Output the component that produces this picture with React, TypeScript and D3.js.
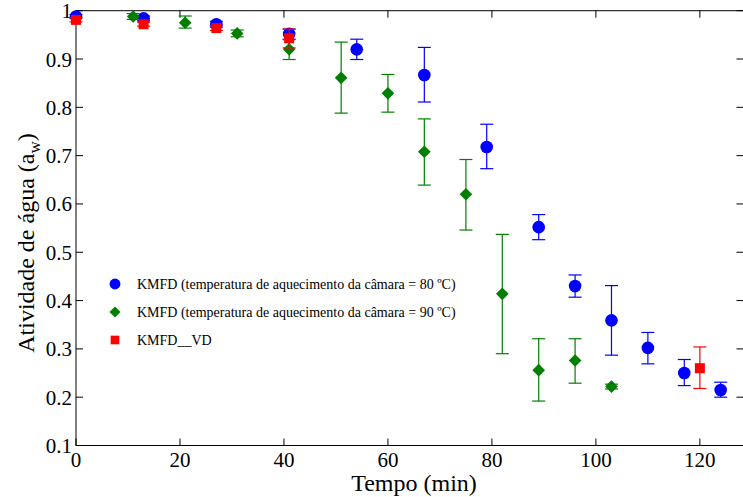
import React, { useEffect, useRef } from 'react';
import * as d3 from 'd3';

// KMFD, camara a 80 C
const t80 = [0, 13, 27, 41, 54, 67, 79, 89, 96, 103, 110, 117, 124];
const aw80 = [0.988, 0.984, 0.972, 0.952, 0.92, 0.867, 0.718, 0.552, 0.43, 0.359, 0.302, 0.25, 0.215];
const lo80 = [0.985, 0.979, 0.966, 0.941, 0.899, 0.811, 0.673, 0.526, 0.407, 0.287, 0.269, 0.224, 0.2];
const hi80 = [0.992, 0.989, 0.978, 0.962, 0.941, 0.924, 0.765, 0.578, 0.453, 0.431, 0.334, 0.278, 0.231];

// KMFD, camara a 90 C
const t90 = [11, 21, 31, 41, 51, 60, 67, 75, 82, 89, 96, 103];
const aw90 = [0.988, 0.975, 0.953, 0.92, 0.861, 0.829, 0.708, 0.62, 0.414, 0.256, 0.276, 0.222];
const lo90 = [0.982, 0.964, 0.946, 0.899, 0.788, 0.79, 0.639, 0.546, 0.29, 0.192, 0.229, 0.217];
const hi90 = [0.994, 0.989, 0.96, 0.94, 0.935, 0.868, 0.776, 0.692, 0.537, 0.321, 0.321, 0.227];

// KMFD__VD
const tVD = [0, 13, 27, 41, 120];
const awVD = [0.981, 0.972, 0.964, 0.943, 0.26];
const loVD = [0.977, 0.968, 0.959, 0.923, 0.218];
const hiVD = [0.985, 0.976, 0.969, 0.962, 0.304];

const xTicks = [0, 20, 40, 60, 80, 100, 120];
const yTicks = [0.1, 0.2, 0.3, 0.4, 0.5, 0.6, 0.7, 0.8, 0.9, 1];
const legendLabels = [
  'KMFD (temperatura de aquecimento da câmara = 80 ºC)',
  'KMFD (temperatura de aquecimento da câmara = 90 ºC)',
  'KMFD__VD',
];

const FONT = "'Liberation Serif', 'DejaVu Serif', serif";

const App = () => {
  const svgRef = useRef<SVGSVGElement>(null);

  useEffect(() => {
    const width = 743;
    const height = 497;
    const left = 76;
    const right = 742.5;
    const top = 10.7;
    const bottom = 445.5;

    const svg = d3.select(svgRef.current);
    svg.selectAll('*').remove();
    svg.attr('width', width).attr('height', height);

    const x = d3.scaleLinear().domain([0, 128.2]).range([left, right]);
    const y = d3.scaleLinear().domain([0.1, 1]).range([bottom, top]);

    // axes box with inward ticks
    const tl = 7;
    const ax = svg.append('g').attr('stroke', '#000').attr('stroke-width', 1).attr('fill', 'none');
    ax.append('rect').attr('x', left).attr('y', top).attr('width', right - left + 1).attr('height', bottom - top);
    ax.selectAll('.xb').data(xTicks).join('line')
      .attr('x1', (d) => x(d)).attr('x2', (d) => x(d)).attr('y1', bottom).attr('y2', bottom - tl);
    ax.selectAll('.xt').data(xTicks).join('line')
      .attr('x1', (d) => x(d)).attr('x2', (d) => x(d)).attr('y1', top).attr('y2', top + tl);
    ax.selectAll('.yl').data(yTicks).join('line')
      .attr('x1', left).attr('x2', left + tl).attr('y1', (d) => y(d)).attr('y2', (d) => y(d));
    ax.selectAll('.yr').data(yTicks).join('line')
      .attr('x1', right + 1).attr('x2', right + 1 - tl).attr('y1', (d) => y(d)).attr('y2', (d) => y(d));

    const txt = svg.append('g').attr('font-family', FONT).attr('fill', '#000');
    txt.selectAll('.xl').data(xTicks).join('text')
      .attr('x', (d) => x(d)).attr('y', 467).attr('text-anchor', 'middle').attr('font-size', 21)
      .text((d) => d);
    txt.selectAll('.ylab').data(yTicks).join('text')
      .attr('x', 72).attr('y', (d) => y(d) + 7.5).attr('text-anchor', 'end').attr('font-size', 21)
      .text((d) => (d === 1 ? '1' : d3.format('.1f')(d)));

    txt.append('text').attr('x', 414).attr('y', 491).attr('text-anchor', 'middle')
      .attr('font-size', 24).text('Tempo (min)');

    const yl = txt.append('text').attr('transform', 'translate(34,243) rotate(-90)')
      .attr('text-anchor', 'middle').attr('font-size', 24);
    yl.append('tspan').text('Atividade de água (a');
    yl.append('tspan').attr('font-size', 17).attr('dy', 6).text('w');
    yl.append('tspan').attr('dy', -6).text(')');

    const series = [
      { t: t80, v: aw80, lo: lo80, hi: hi80, color: '#0000ff', shape: 'circle' },
      { t: t90, v: aw90, lo: lo90, hi: hi90, color: '#007f00', shape: 'diamond' },
      { t: tVD, v: awVD, lo: loVD, hi: hiVD, color: '#ff0000', shape: 'square' },
    ];

    const marker = (shape: string, scale = 1) => {
      if (shape === 'circle') return d3.symbol(d3.symbolCircle, 125 * scale)();
      return d3.symbol(d3.symbolSquare, (shape === 'diamond' ? 80 : 100) * scale)();
    };

    const cap = 6.5;
    series.forEach((s) => {
      const g = svg.append('g');
      const idx = d3.range(s.t.length);
      const eb = g.append('g').attr('stroke', s.color).attr('stroke-width', 1.2).attr('fill', 'none');
      eb.selectAll('.v').data(idx).join('line')
        .attr('x1', (i) => x(s.t[i])).attr('x2', (i) => x(s.t[i]))
        .attr('y1', (i) => y(s.lo[i])).attr('y2', (i) => y(s.hi[i]));
      eb.selectAll('.c1').data(idx).join('line')
        .attr('x1', (i) => x(s.t[i]) - cap).attr('x2', (i) => x(s.t[i]) + cap)
        .attr('y1', (i) => y(s.lo[i])).attr('y2', (i) => y(s.lo[i]));
      eb.selectAll('.c2').data(idx).join('line')
        .attr('x1', (i) => x(s.t[i]) - cap).attr('x2', (i) => x(s.t[i]) + cap)
        .attr('y1', (i) => y(s.hi[i])).attr('y2', (i) => y(s.hi[i]));
      g.selectAll('path').data(idx).join('path')
        .attr('d', marker(s.shape))
        .attr('fill', s.color)
        .attr('transform', (i) => `translate(${x(s.t[i])},${y(s.v[i])})${s.shape === 'diamond' ? ' rotate(45)' : ''}`);
    });

    // legend
    const lg = svg.append('g');
    series.forEach((s, i) => {
      const ly = 284 + i * 28;
      lg.append('path').attr('d', marker(s.shape, 0.75)).attr('fill', s.color)
        .attr('transform', `translate(115,${ly})${s.shape === 'diamond' ? ' rotate(45)' : ''}`);
      lg.append('text').attr('x', 137).attr('y', ly + 5).attr('font-family', FONT)
        .attr('font-size', 14).attr('fill', '#000').text(legendLabels[i]);
    });
  }, []);

  return (
    <svg ref={svgRef} style={{ position: 'absolute', left: 0, top: 0, background: '#fff' }}></svg>
  );
};

export default App;
